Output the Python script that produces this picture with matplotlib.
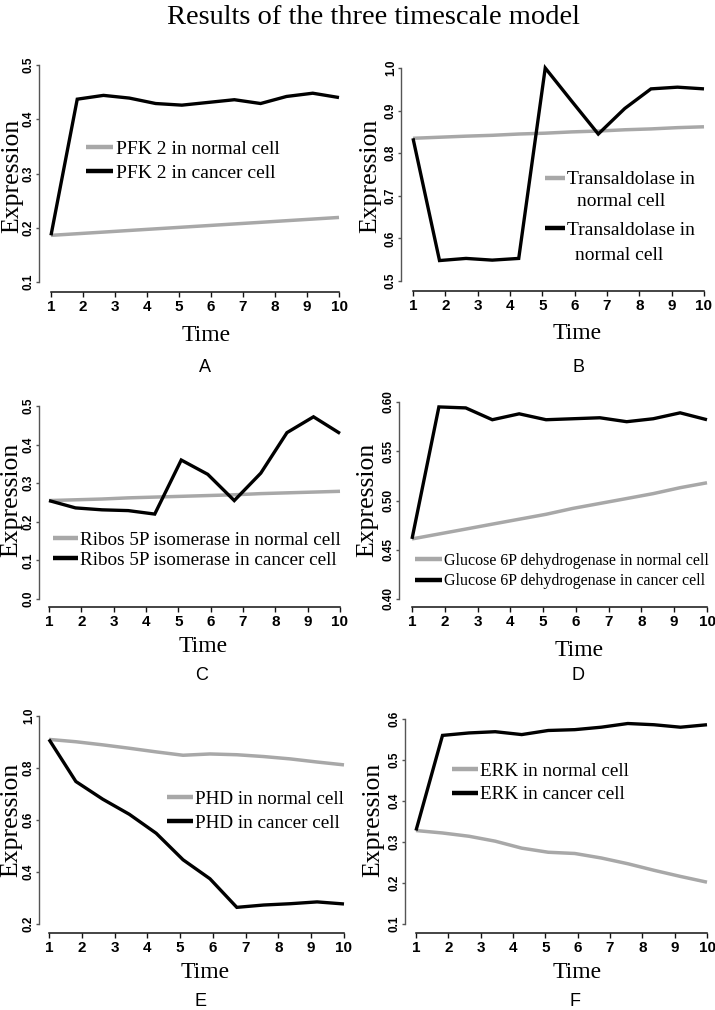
import matplotlib
matplotlib.use("Agg")
import matplotlib.pyplot as plt

# ---------------- data ----------------
time = [1, 1.82, 2.64, 3.45, 4.27, 5.09, 5.91, 6.73, 7.55, 8.36, 9.18, 10]
x_ticks = [1, 2, 3, 4, 5, 6, 7, 8, 9, 10]

pfk_normal = [0.186, 0.189, 0.192, 0.195, 0.198, 0.201, 0.204, 0.207, 0.210, 0.213, 0.216, 0.219]
pfk_cancer = [0.186, 0.437, 0.444, 0.439, 0.429, 0.426, 0.431, 0.436, 0.429, 0.442, 0.448, 0.440]

trans_normal = [0.835, 0.8375, 0.840, 0.842, 0.845, 0.847, 0.850, 0.852, 0.855, 0.857, 0.860, 0.862]
trans_cancer = [0.835, 0.548, 0.553, 0.549, 0.553, 1.000, 0.922, 0.845, 0.905, 0.951, 0.955, 0.951]

ribose_normal = [0.255, 0.257, 0.259, 0.262, 0.264, 0.266, 0.268, 0.270, 0.273, 0.275, 0.277, 0.279]
ribose_cancer = [0.255, 0.236, 0.231, 0.229, 0.220, 0.360, 0.323, 0.255, 0.326, 0.431, 0.472, 0.429]

g6pd_normal = [0.461, 0.466, 0.471, 0.476, 0.481, 0.486, 0.492, 0.497, 0.502, 0.507, 0.513, 0.518]
g6pd_cancer = [0.461, 0.595, 0.594, 0.582, 0.588, 0.582, 0.583, 0.584, 0.580, 0.583, 0.589, 0.582]

phd_normal = [0.910, 0.901, 0.889, 0.876, 0.862, 0.849, 0.854, 0.851, 0.844, 0.835, 0.823, 0.812]
phd_cancer = [0.910, 0.748, 0.680, 0.622, 0.549, 0.447, 0.374, 0.264, 0.273, 0.278, 0.285, 0.277]

erk_normal = [0.328, 0.322, 0.314, 0.302, 0.285, 0.275, 0.272, 0.261, 0.247, 0.231, 0.216, 0.202]
erk_cancer = [0.328, 0.560, 0.566, 0.569, 0.562, 0.572, 0.574, 0.580, 0.589, 0.586, 0.580, 0.586]

yticks_A = [0.1, 0.2, 0.3, 0.4, 0.5]
yticks_B = [0.5, 0.6, 0.7, 0.8, 0.9, 1.0]
yticks_C = [0.0, 0.1, 0.2, 0.3, 0.4, 0.5]
yticks_D = [0.40, 0.45, 0.50, 0.55, 0.60]
yticks_E = [0.2, 0.4, 0.6, 0.8, 1.0]
yticks_F = [0.1, 0.2, 0.3, 0.4, 0.5, 0.6]

labels_A = ["PFK 2 in normal cell", "PFK 2 in cancer cell"]
labels_B = ["Transaldolase in", "Transaldolase in"]
labels_B2 = [" normal cell", "normal cell"]
labels_C = ["Ribos 5P isomerase in normal cell", "Ribos 5P isomerase in cancer cell"]
labels_D = ["Glucose 6P dehydrogenase in normal cell", "Glucose 6P dehydrogenase in cancer cell"]
labels_E = ["PHD in normal cell", "PHD in cancer cell"]
labels_F = ["ERK in normal cell", "ERK in cancer cell"]

title = "Results of the three timescale model"
panel_letters = ["A", "B", "C", "D", "E", "F"]

# ---------------- layout ----------------
W, H = 715, 1010
fig = plt.figure(figsize=(W / 100, H / 100), dpi=100)
fig.patch.set_facecolor("white")

SERIF = ["Liberation Serif", "DejaVu Serif"]
SANS = ["Liberation Sans", "DejaVu Sans"]
NARROW = ["Liberation Sans Narrow", "Liberation Sans", "DejaVu Sans"]

GRAY = "#a8a8a8"
BLACK = "#000000"


def fx(px):
    return px / W


def fy(py):
    return 1 - py / H


# x1px, x10px, ybot_px, ytop_px, yaxis_px, xaxis_px
panels = [
    dict(geom=(51, 339, 282, 65, 39, 292), yt=yticks_A, fmt="{:.1f}",
         normal=pfk_normal, cancer=pfk_cancer, labels=labels_A,
         leg=(86, 161, 14, 1.4, 0.33), xlab=(206, 335), ylab=(12, 176), letter=(205, 367)),
    dict(geom=(413, 704, 281, 68, 401, 291), yt=yticks_B, fmt="{:.1f}",
         normal=trans_normal, cancer=trans_cancer, labels=labels_B,
         leg=(545, 205, 14, 1.03, 1.7), xlab=(577, 333), ylab=(370, 176), letter=(578, 367)),
    dict(geom=(49, 340, 599, 406, 39, 607), yt=yticks_C, fmt="{:.1f}",
         normal=ribose_normal, cancer=ribose_cancer, labels=labels_C,
         leg=(53, 550, 13.8, 1.3, 0.12), xlab=(203, 647), ylab=(11, 500), letter=(202, 675)),
    dict(geom=(412, 707, 599, 402, 399, 607), yt=yticks_D, fmt="{:.2f}",
         normal=g6pd_normal, cancer=g6pd_cancer, labels=labels_D,
         leg=(415, 571, 11.5, 1.7, 0.27), xlab=(579, 650), ylab=(367, 500), letter=(578, 675)),
    dict(geom=(49, 344, 924, 716, 39, 933), yt=yticks_E, fmt="{:.1f}",
         normal=phd_normal, cancer=phd_cancer, labels=labels_E,
         leg=(167, 811, 13.8, 1.35, 0.33), xlab=(205, 973), ylab=(11, 820), letter=(200, 1001)),
    dict(geom=(416, 707, 924, 719, 405, 933), yt=yticks_F, fmt="{:.1f}",
         normal=erk_normal, cancer=erk_cancer, labels=labels_F,
         leg=(452, 783, 13.8, 1.35, 0.3), xlab=(577, 973), ylab=(373, 820), letter=(575, 1001)),
]

for i, p in enumerate(panels):
    x1, x10, yb, ytp, yax, xax = p["geom"]
    ax = fig.add_axes([fx(x1), fy(yb), (x10 - x1) / W, (yb - ytp) / H])
    ax.set_xlim(1, 10)
    ax.set_ylim(p["yt"][0], p["yt"][-1])
    ax.patch.set_alpha(0)

    ln_n, = ax.plot(time, p["normal"], color=GRAY, lw=2.5, clip_on=False,
                    solid_joinstyle="round", solid_capstyle="butt")
    ln_c, = ax.plot(time, p["cancer"], color=BLACK, lw=2.4, clip_on=False,
                    solid_joinstyle="miter", solid_capstyle="butt")

    for s in ("top", "right"):
        ax.spines[s].set_visible(False)
    ax.spines["left"].set_position(("outward", (x1 - yax) * 0.72))
    ax.spines["bottom"].set_position(("outward", (xax - yb) * 0.72))
    ax.spines["left"].set_bounds(p["yt"][0], p["yt"][-1])
    ax.spines["bottom"].set_bounds(1, 10)
    ax.spines["left"].set_color("#555555")
    ax.spines["left"].set_linewidth(1.0)
    ax.spines["bottom"].set_color("#111111")
    ax.spines["bottom"].set_linewidth(1.1)

    ax.set_xticks(x_ticks)
    ax.set_xticklabels([str(t) for t in x_ticks], fontfamily=NARROW,
                       fontweight="bold", fontsize=11)
    ax.set_yticks(p["yt"])
    ax.set_yticklabels([p["fmt"].format(v) for v in p["yt"]], fontfamily=SANS,
                       fontweight="bold", fontsize=8.5, rotation=90, va="center")
    ax.tick_params(axis="x", length=3.5, width=1.0, pad=2, color="#111111")
    ax.tick_params(axis="y", length=2.0, width=1.0, pad=1, color="#555555")

    hx, cy, fs, hl, ls = p["leg"]
    leg = ax.legend([ln_n, ln_c], p["labels"], loc="center left",
                    bbox_to_anchor=(fx(hx), fy(cy)), bbox_transform=fig.transFigure,
                    frameon=False, borderpad=0, borderaxespad=0,
                    handlelength=hl, handletextpad=0.12, labelspacing=ls,
                    prop={"family": SERIF, "size": fs})
    for lh in leg.get_lines():
        lh.set_linewidth(3.2)

    if i == 1:
        fig.text(fx(577), fy(202), labels_B2[0].strip(), family=SERIF, fontsize=14,
                 ha="left", va="center")
        fig.text(fx(575), fy(256), labels_B2[1], family=SERIF, fontsize=14,
                 ha="left", va="center")

    fig.text(fx(p["xlab"][0]), fy(p["xlab"][1]), "Time", family=SERIF,
             fontsize=17, ha="center", va="center")
    fig.text(fx(p["ylab"][0]), fy(p["ylab"][1]), "Expression", family=SERIF,
             fontsize=18.5, ha="center", va="center", rotation=90)
    fig.text(fx(p["letter"][0]), fy(p["letter"][1]), panel_letters[i], family=SANS,
             fontsize=13, ha="center", va="center")

fig.text(fx(373), fy(18), title, family=SERIF, fontsize=20.5, ha="center", va="center")

fig.savefig("out.png", dpi=100, facecolor="white")
